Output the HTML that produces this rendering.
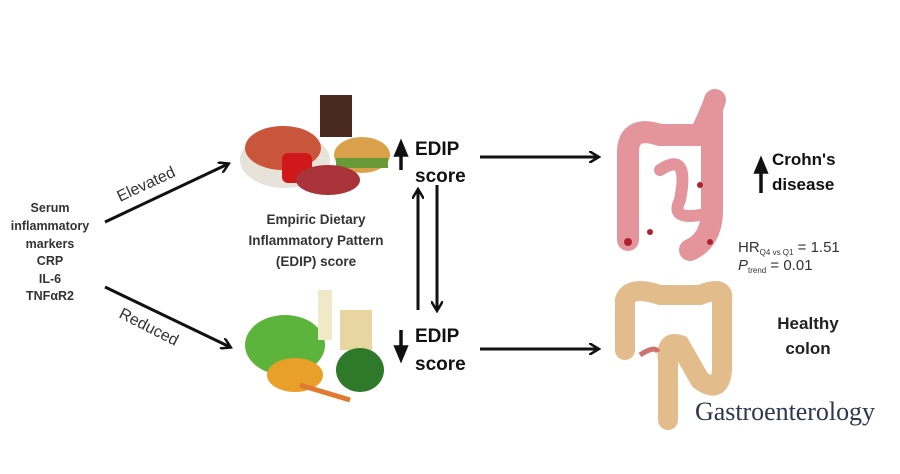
<!DOCTYPE html>
<html><head><meta charset="utf-8"><style>
html,body{margin:0;padding:0;background:#fff;width:900px;height:474px;overflow:hidden}
text{font-family:"Liberation Sans",sans-serif}
</style></head><body>
<svg width="900" height="474" viewBox="0 0 900 474" xmlns="http://www.w3.org/2000/svg">
<defs>
<marker id="ah" markerWidth="12" markerHeight="12" refX="9" refY="6" orient="auto" markerUnits="userSpaceOnUse"><path d="M0,0 L10,6 L0,12" fill="none" stroke="#111" stroke-width="2.5"/></marker>
</defs>
<g font-weight="bold" font-size="12.5" fill="#333" text-anchor="middle">
<text x="50" y="212">Serum</text><text x="50" y="230">inflammatory</text><text x="50" y="248">markers</text>
<text x="50" y="265">CRP</text><text x="50" y="283">IL-6</text><text x="50" y="300">TNFαR2</text>
</g>
<g stroke="#111" stroke-width="3" fill="none" marker-end="url(#ah)">
<line x1="105" y1="222" x2="228" y2="164"/>
<line x1="105" y1="287" x2="230" y2="347"/>
<line x1="480" y1="157" x2="598" y2="157"/>
<line x1="480" y1="349" x2="598" y2="349"/>
<line x1="418" y1="310" x2="418" y2="190"/>
<line x1="437" y1="185" x2="437" y2="310"/>
</g>
<text x="0" y="0" font-size="16" fill="#333" transform="translate(120,202) rotate(-25)">Elevated</text>
<text x="0" y="0" font-size="16" fill="#333" transform="translate(118,317) rotate(27)">Reduced</text>
<!-- food top -->
<ellipse cx="285" cy="160" rx="45" ry="28" fill="#e8e3da"/>
<ellipse cx="283" cy="148" rx="38" ry="22" fill="#c9553a"/>
<rect x="320" y="95" width="32" height="42" fill="#4a2a20"/>
<ellipse cx="362" cy="155" rx="28" ry="18" fill="#d9a24a"/>
<rect x="336" y="158" width="52" height="10" fill="#6a9a38"/>
<rect x="282" y="153" width="30" height="30" rx="6" fill="#d0181a"/>
<ellipse cx="328" cy="180" rx="32" ry="15" fill="#a8343a"/>
<!-- food bottom -->
<ellipse cx="285" cy="345" rx="40" ry="30" fill="#5cb43c"/>
<rect x="318" y="290" width="14" height="50" fill="#efe9c8"/>
<rect x="340" y="310" width="32" height="40" fill="#e8d6a0"/>
<ellipse cx="295" cy="375" rx="28" ry="17" fill="#e8a028"/>
<ellipse cx="360" cy="370" rx="24" ry="22" fill="#2e7a2a"/>
<line x1="300" y1="385" x2="350" y2="400" stroke="#e07a30" stroke-width="5"/>
<g font-weight="bold" font-size="13.5" fill="#333" text-anchor="middle">
<text x="316" y="224">Empiric Dietary</text><text x="316" y="245">Inflammatory Pattern</text><text x="316" y="266">(EDIP) score</text>
</g>
<g font-weight="bold" font-size="19" fill="#111">
<text x="415" y="155">EDIP</text><text x="415" y="182">score</text>
<text x="415" y="342">EDIP</text><text x="415" y="370">score</text>
<text x="772" y="165" font-size="17">Crohn's</text><text x="772" y="190" font-size="17">disease</text>
</g>
<g font-weight="bold" font-size="17" fill="#222" text-anchor="middle">
<text x="808" y="329">Healthy</text><text x="808" y="354">colon</text>
</g>
<!-- small thick arrows -->
<path d="M401,170 V152 M396,155 L401,143 L406,155Z" stroke="#111" stroke-width="3.5" fill="#111"/>
<path d="M401,330 V350 M396,347 L401,359 L406,347Z" stroke="#111" stroke-width="3.5" fill="#111"/>
<path d="M761,193 V170 M756,172 L761,160 L766,172Z" stroke="#111" stroke-width="3.5" fill="#111"/>
<!-- red colon -->
<g fill="none" stroke="#e3959b" stroke-width="22" stroke-linecap="round">
<path d="M628,240 V150 Q630,125 660,135 H700 Q712,110 715,100"/>
<path d="M712,110 V210 Q712,240 690,250"/>
<path d="M660,170 Q690,150 680,200 Q670,220 700,215" stroke-width="12"/>
</g>
<g fill="#b02030"><circle cx="628" cy="242" r="4"/><circle cx="650" cy="232" r="3"/><circle cx="710" cy="242" r="3"/><circle cx="700" cy="185" r="3"/></g>
<!-- tan colon -->
<g fill="none" stroke="#e3bc8c" stroke-width="20" stroke-linecap="round">
<path d="M625,350 V300 Q630,285 660,295 H700 Q725,285 722,300 V370 Q720,395 700,380 L680,345 Q665,340 668,360 V420"/>
</g>
<path d="M640,355 Q655,345 658,352" stroke="#d07070" stroke-width="5" fill="none"/>
<g font-size="15" fill="#333">
<text x="738" y="252">HR<tspan font-size="8" dy="3">Q4 vs Q1</tspan><tspan dy="-3"> = 1.51</tspan></text>
<text x="738" y="270"><tspan font-style="italic">P</tspan><tspan font-size="8" dy="3">trend</tspan><tspan dy="-3"> = 0.01</tspan></text>
</g>
<text x="695" y="420" font-size="26" fill="#2e3650" style="font-family:'Liberation Serif',serif" textLength="180">Gastroenterology</text>
</svg>
</body></html>
